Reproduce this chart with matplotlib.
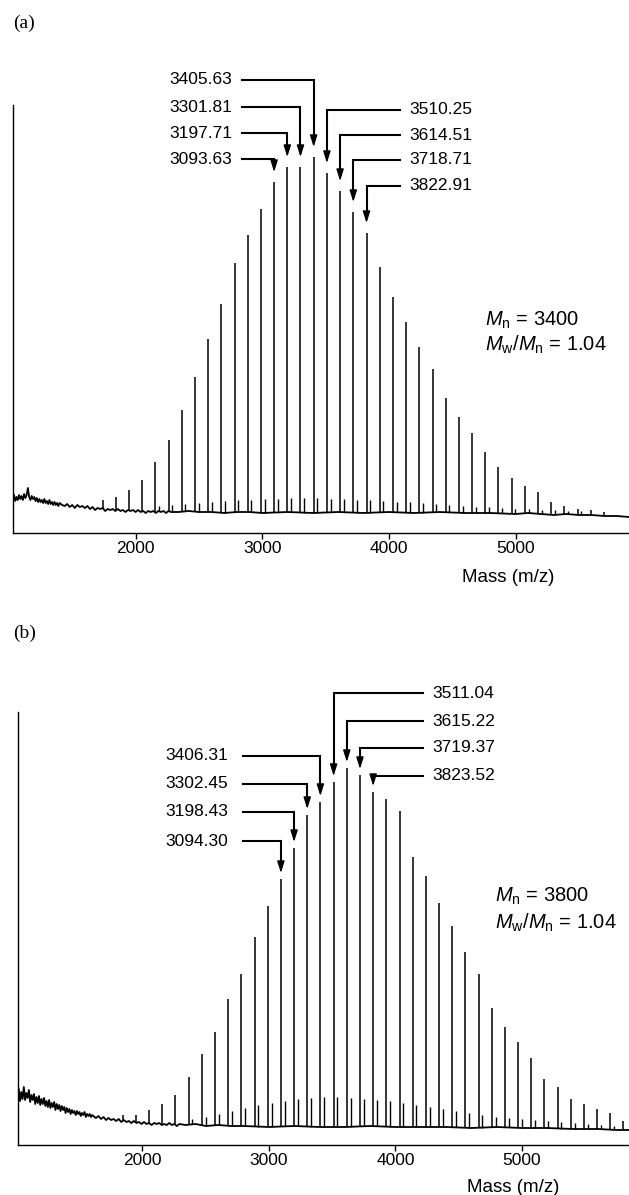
import numpy as np
import matplotlib
matplotlib.use("Agg")
import matplotlib.pyplot as plt

plt.rcParams['font.family'] = ['Liberation Sans', 'DejaVu Sans']
plt.rcParams['mathtext.fontset'] = 'custom'
plt.rcParams['mathtext.rm'] = 'Liberation Sans'
plt.rcParams['mathtext.it'] = 'Liberation Sans:italic'

# ------------------------------------------------------------------
# (a) spectrum: peak masses and heights (arbitrary units)
# ------------------------------------------------------------------
a_mass = [1739, 1843, 1947, 2052, 2156, 2260, 2364, 2468, 2572, 2677, 2781,
          2885, 2989, 3093.63, 3197.71, 3301.81, 3405.63, 3510.25, 3614.51,
          3718.71, 3822.91, 3927, 4031, 4135, 4239, 4344, 4448, 4552, 4656,
          4760, 4864, 4969, 5073, 5177, 5281, 5385, 5490, 5594, 5698]
a_height = [33, 36, 43, 53, 71, 93, 123, 156, 194, 229, 270,
            298, 324, 351, 366, 366, 376, 360, 342,
            321, 300, 266, 236, 211, 186, 164, 135, 116, 100,
            81, 66, 55, 47, 41, 31, 27, 24, 23, 21]
# small satellite peak after each main peak (n = -9 .. 23)
a_sat = [27, 28, 29, 30, 31, 32, 33, 33, 34, 34, 35, 35, 35, 34, 34, 33, 33,
         32, 31, 31, 30, 29, 28, 27, 26, 26, 25, 24, 24, 23, 23, 22, 22]
# baseline: every 10 m/z at the noisy low-mass end, then every 20, then coarse
a_base_mass = list(range(1030, 1410, 10)) + list(range(1420, 2300, 20)) + [
    2340, 2420, 2500, 2600, 2700, 2800, 2900, 3000, 3200, 3400, 3600, 3800,
    4000, 4200, 4400, 4600, 4800, 5000, 5100, 5200, 5300, 5400, 5500, 5600,
    5700, 5800, 5895]
a_base = [35, 38, 32, 36, 33, 38, 34, 37, 33, 39, 35, 38, 45, 36, 33, 37,
          34, 36, 32, 35, 31, 34, 31, 33, 30, 34, 30, 32, 29, 33, 29, 31,
          28, 31, 28, 30, 27, 30,
          28, 27, 29, 26, 28, 25, 28, 26, 27, 25, 27, 24, 26, 23, 25, 24,
          25, 22, 24, 23, 24, 22, 24, 22, 23, 21, 23, 22, 23, 21, 23, 21,
          22, 20, 22, 21, 22, 20, 22, 21, 22, 20, 22, 21,
          21, 22, 21, 21, 20, 21, 21, 20, 21, 20, 21, 20,
          21, 20, 21, 20, 20, 19, 20, 19, 18, 19, 18, 18,
          17, 17, 16]
a_left = ['3405.63', '3301.81', '3197.71', '3093.63']
a_right = ['3510.25', '3614.51', '3718.71', '3822.91']

# ------------------------------------------------------------------
# (b) spectrum
# ------------------------------------------------------------------
b_mass = [1845, 1949, 2053, 2157, 2261, 2365, 2469, 2573, 2678, 2782, 2886,
          2990, 3094.30, 3198.43, 3302.45, 3406.31, 3511.04, 3615.22, 3719.37,
          3823.52, 3928, 4032, 4136, 4240, 4344, 4449, 4553, 4657, 4761, 4865,
          4969, 5073, 5178, 5282, 5386, 5490, 5594, 5698, 5802]
b_height = [30, 30, 35, 41, 50, 68, 91, 113, 146, 171, 208,
            239, 266, 297, 330, 343, 363, 377, 370,
            353, 346, 334, 288, 269, 242, 219, 193, 171, 137, 118,
            103, 87, 66, 58, 46, 41, 36, 32, 24]
# satellites, n = -7 .. 25
b_sat = [26, 28, 31, 34, 37, 40, 42, 44, 46, 47, 48, 48, 47, 46, 45, 44, 42,
         40, 38, 36, 34, 32, 30, 28, 27, 26, 25, 24, 23, 22, 21, 20, 19]
b_base_mass = list(range(1012, 1612, 10)) + list(range(1632, 2300, 20)) + [
    2340, 2420, 2500, 2600, 2700, 2800, 3000, 3200, 3400, 3600, 3800, 4000,
    4200, 4400, 4600, 4800, 5000, 5200, 5400, 5600, 5750, 5846]
b_base = [47, 56, 44, 53, 46, 58, 45, 52, 47, 55, 43, 50, 45, 51, 41, 48,
          42, 49, 40, 46, 41, 47, 39, 44, 38, 45, 37, 42, 38, 43, 35, 41,
          36, 40, 34, 39, 35, 38, 32, 37, 33, 36, 31, 35, 32, 34, 30, 34,
          31, 33, 29, 32, 30, 33, 28, 31, 29, 31, 28, 30,
          27, 29, 26, 28, 25, 27, 25, 26, 24, 26, 23, 25, 23, 24, 22, 24,
          22, 23, 21, 23, 21, 22, 20, 22, 21, 22, 20, 21, 20, 22, 20, 21,
          19, 21,
          20, 21, 19, 20, 19, 19, 18, 19, 18, 18, 19, 18,
          18, 18, 17, 18, 17, 17, 16, 16, 15, 15]
b_left = ['3406.31', '3302.45', '3198.43', '3094.30']
b_right = ['3511.04', '3615.22', '3719.37', '3823.52']

SAT_SHIFT = 30
FS = 12.5


def draw_spectrum(ax, mass, height, sat, sat_first, base_m, base_v):
    mass = np.asarray(mass, float)
    height = np.asarray(height, float)
    ax.plot(base_m, base_v, color='k', lw=1.3, zorder=2)
    bottoms = np.interp(mass, base_m, base_v)
    ax.vlines(mass, bottoms, height, color='k', lw=1.1, zorder=3)
    sat_m = mass[sat_first:sat_first + len(sat)] + SAT_SHIFT
    ax.vlines(sat_m, np.interp(sat_m, base_m, base_v), sat, color='k',
              lw=1.0, zorder=3)


def label_peaks(ax, mass, height, labels, text_y, text_x, line_x, side, gap):
    lookup = dict(zip([round(m, 2) for m in mass], height))
    for lab, ty in zip(labels, text_y):
        m = float(lab)
        tip = lookup[round(m, 2)] + gap
        ha = 'right' if side == 'left' else 'left'
        ax.text(text_x, ty, lab, ha=ha, va='center', fontsize=FS)
        ax.plot([line_x, m, m], [ty, ty, tip + 6], color='k', lw=1.5,
                clip_on=False, solid_joinstyle='miter')
        ax.annotate('', xy=(m, tip), xytext=(m, tip + 8),
                    arrowprops=dict(arrowstyle='-|>,head_length=0.7,head_width=0.22',
                                    color='k', lw=1.0, shrinkA=0, shrinkB=0),
                    annotation_clip=False)


def style_axes(ax, xlim, ytop):
    ax.set_xlim(*xlim)
    ax.set_ylim(0, ytop)
    ax.spines['top'].set_visible(False)
    ax.spines['right'].set_visible(False)
    ax.spines['left'].set_linewidth(1.0)
    ax.spines['bottom'].set_linewidth(1.0)
    ax.set_yticks([])
    ax.set_xticks([2000, 3000, 4000, 5000])
    ax.tick_params(axis='x', direction='out', length=4, width=1,
                   labelsize=FS, pad=2)


W, H = 629, 1195
fig = plt.figure(figsize=(W / 100, H / 100), dpi=100)

ax1 = fig.add_axes([12.7 / W, 1 - 533 / H, 1 - 12.7 / W, 428 / H])
ax2 = fig.add_axes([17.5 / W, 1 - 1145 / H, 1 - 17.5 / W, 433 / H])

style_axes(ax1, (1030, 5895), 428)
style_axes(ax2, (1012, 5846), 433)

draw_spectrum(ax1, a_mass, a_height, a_sat, 4, a_base_mass, a_base)
draw_spectrum(ax2, b_mass, b_height, b_sat, 5, b_base_mass, b_base)

label_peaks(ax1, a_mass, a_height, a_left, [453, 426, 400, 374], 2761, 2840, 'left', 10)
label_peaks(ax1, a_mass, a_height, a_right, [423, 398, 373, 347], 4158, 4087, 'right', 10)
label_peaks(ax2, b_mass, b_height, b_left, [389, 361, 333, 304], 2676, 2795, 'left', 6)
label_peaks(ax2, b_mass, b_height, b_right, [452, 424, 397, 369], 4289, 4218, 'right', 6)

MFS = 14.5
ax1.text(0.766, 0.498, r'$M_\mathrm{n}$ = 3400', transform=ax1.transAxes,
         ha='left', va='center', fontsize=MFS)
ax1.text(0.766, 0.439, r'$M_\mathrm{w}/M_\mathrm{n}$ = 1.04', transform=ax1.transAxes,
         ha='left', va='center', fontsize=MFS)
ax2.text(0.781, 0.575, r'$M_\mathrm{n}$ = 3800', transform=ax2.transAxes,
         ha='left', va='center', fontsize=MFS)
ax2.text(0.781, 0.513, r'$M_\mathrm{w}/M_\mathrm{n}$ = 1.04', transform=ax2.transAxes,
         ha='left', va='center', fontsize=MFS)

ax1.text(0.804, -0.105, 'Mass (m/z)', transform=ax1.transAxes,
         ha='center', va='center', fontsize=13.5)
ax2.text(0.810, -0.099, 'Mass (m/z)', transform=ax2.transAxes,
         ha='center', va='center', fontsize=13.5)

fig.text(13 / W, 1 - 23 / H, '(a)', family='Liberation Serif', fontsize=14,
         ha='left', va='center')
fig.text(13 / W, 1 - 633 / H, '(b)', family='Liberation Serif', fontsize=14,
         ha='left', va='center')

fig.savefig('out.png', dpi=100)
